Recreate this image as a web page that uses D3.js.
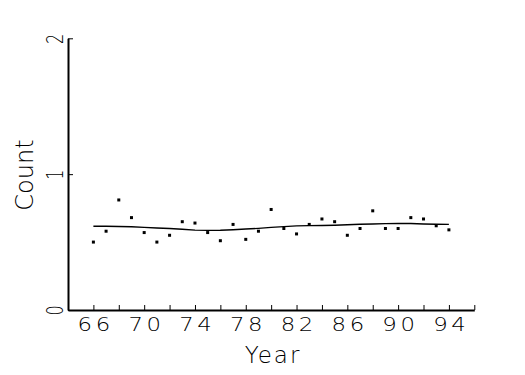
<!DOCTYPE html>
<html>
<head>
<script src="https://cdn.jsdelivr.net/npm/d3@7"></script>
<style>
body { margin: 0; background: #fff; }
svg text { fill: #000; }
</style>
</head>
<body>
<script>
// data
var years  = [66, 67, 68, 69, 70, 71, 72, 73, 74, 75, 76, 77, 78, 79, 80,
              81, 82, 83, 84, 85, 86, 87, 88, 89, 90, 91, 92, 93, 94];
var counts = [0.50, 0.58, 0.81, 0.68, 0.57, 0.50, 0.55, 0.65, 0.64, 0.57, 0.51, 0.63, 0.52, 0.58, 0.74,
              0.60, 0.56, 0.63, 0.67, 0.65, 0.55, 0.60, 0.73, 0.60, 0.60, 0.68, 0.67, 0.62, 0.59];
var smooth = [0.616, 0.616, 0.615, 0.613, 0.608, 0.604, 0.600, 0.594, 0.588, 0.586, 0.587, 0.591, 0.596, 0.601, 0.608,
              0.614, 0.619, 0.621, 0.622, 0.624, 0.628, 0.631, 0.633, 0.636, 0.638, 0.637, 0.633, 0.631, 0.630];
var xTicks = [66, 68, 70, 72, 74, 76, 78, 80, 82, 84, 86, 88, 90, 92, 94, 96];
var xLabels = [66, 70, 74, 78, 82, 86, 90, 94];
var yTicks = [0, 1, 2];

var width = 525, height = 375;

var svg = d3.select("body").append("svg")
    .attr("width", width)
    .attr("height", height);

var x = d3.scaleLinear().domain([64, 96]).range([68, 474.3]);
var y = d3.scaleLinear().domain([0, 2]).range([310, 38.3]);

// x axis, ticks point up into the plot
var xAxis = svg.append("g")
    .attr("transform", "translate(0,310)")
    .call(d3.axisBottom(x).tickValues(xTicks).tickSizeInner(-5).tickSizeOuter(0)
        .tickFormat(function(d){ return xLabels.indexOf(d) >= 0 ? d : ""; }));
xAxis.select(".domain").attr("stroke", "#000").attr("stroke-width", 2);
xAxis.selectAll(".tick line").attr("stroke", "#000").attr("stroke-width", 1);
xAxis.selectAll(".tick text")
    .attr("y", 21)
    .attr("dy", 0)
    .attr("dx", 1.5)
    .attr("transform", "scale(1.2,1)")
    .style("font-family", "'DejaVu Sans'")
    .style("font-weight", 200)
    .style("font-size", "19px")
    .style("letter-spacing", "3px");

// y axis, ticks point right, labels turned on their side (narrow)
var yAxis = svg.append("g")
    .attr("transform", "translate(68,0)")
    .call(d3.axisLeft(y).tickValues(yTicks).tickSizeInner(-5).tickSizeOuter(0).tickFormat(d3.format("d")));
yAxis.select(".domain").attr("stroke", "#000").attr("stroke-width", 2);
yAxis.selectAll(".tick line").attr("stroke", "#000").attr("stroke-width", 1);
yAxis.selectAll(".tick text")
    .attr("x", null).attr("dy", null)
    .attr("text-anchor", "middle")
    .attr("transform", "translate(-5,0) rotate(-90) scale(0.7,1)")
    .style("font-family", "'DejaVu Sans'")
    .style("font-weight", 200)
    .style("font-size", "23px");

// smoothed line
var line = d3.line()
    .x(function(d, i){ return x(years[i]); })
    .y(function(d){ return y(d); });
svg.append("path")
    .datum(smooth)
    .attr("d", line)
    .attr("fill", "none")
    .attr("stroke", "#000")
    .attr("stroke-width", 1.4);

// points
svg.selectAll("rect.pt")
    .data(counts)
    .enter()
    .append("rect")
    .attr("class", "pt")
    .attr("x", function(d, i){ return x(years[i]) - 1.5; })
    .attr("y", function(d){ return y(d) - 1.5; })
    .attr("width", 3)
    .attr("height", 3)
    .attr("fill", "#000");

// titles
svg.append("text")
    .attr("x", 272).attr("y", 363)
    .attr("text-anchor", "middle")
    .attr("dx", 1)
    .style("font-family", "'DejaVu Sans'")
    .style("font-weight", 200)
    .style("font-size", "23px")
    .style("letter-spacing", "2px")
    .text("Year");

svg.append("text")
    .attr("transform", "translate(33,175) rotate(-90)")
    .attr("text-anchor", "middle")
    .style("font-family", "'DejaVu Sans'")
    .style("font-weight", 200)
    .style("font-size", "24px")
    .text("Count");
</script>
</body>
</html>
